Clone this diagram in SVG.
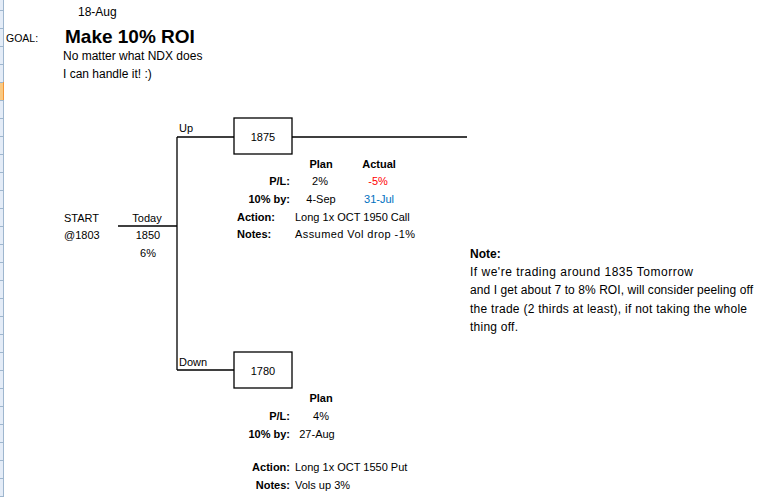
<svg xmlns="http://www.w3.org/2000/svg" width="765" height="497" viewBox="0 0 765 497">
<style>
text{font-family:"Liberation Sans",Arial,sans-serif;font-size:11px;fill:#000}
.b{font-weight:bold}
.m{text-anchor:middle}
.r{text-anchor:end}
.h{font-size:12px}
.n{font-size:12px}
.ln{stroke:#000;stroke-width:1.3;fill:none}
.box{stroke:#000;stroke-width:1.3;fill:#fff}
.tick{stroke:#9eb6ce;stroke-width:1}
</style>
<rect x="0" y="0" width="765" height="497" fill="#fff"/>
<g id="rowheaders">
<rect x="0" y="0" width="3" height="497" fill="#e4ecf7"/>
<line x1="3.5" y1="0" x2="3.5" y2="497" stroke="#9eb6ce"/>
<rect x="0" y="82" width="3" height="18" fill="#f9c982"/>
<line x1="3.5" y1="82" x2="3.5" y2="100" stroke="#f29536"/>
<path class="tick" d="M0 10.5h3M0 28.5h3M0 46.5h3M0 64.5h3M0 82.5h3M0 100.5h3M0 118.5h3M0 136.5h3M0 154.5h3M0 172.5h3M0 190.5h3M0 208.5h3M0 226.5h3M0 244.5h3M0 262.5h3M0 280.5h3M0 298.5h3M0 316.5h3M0 334.5h3M0 352.5h3M0 370.5h3M0 388.5h3M0 406.5h3M0 424.5h3M0 442.5h3M0 460.5h3M0 478.5h3M0 496.5h3"/>
</g>
<g id="header">
<text x="78" y="16" class="h">18-Aug</text>
<text x="6" y="42" style="font-size:10.5px">GOAL:</text>
<text x="65" y="43" class="b" style="font-size:19px">Make 10% ROI</text>
<text x="63" y="60" class="h">No matter what NDX does</text>
<text x="63" y="78" class="h">I can handle it! :)</text>
</g>
<g id="connectors">
<path class="ln" d="M118 226H177M177 137V370M177 137H234M292 137H467M177 370H234"/>
</g>
<g id="start">
<text x="64" y="222">START</text>
<text x="64" y="239">@1803</text>
</g>
<g id="today">
<text x="147" y="222" class="m">Today</text>
<text x="148" y="239" class="m">1850</text>
<text x="148" y="257" class="m">6%</text>
</g>
<g id="up">
<text x="179" y="132">Up</text>
<rect class="box" x="234" y="118" width="58" height="36"/>
<text x="263" y="141" class="m">1875</text>
<text x="321" y="168" class="m b">Plan</text>
<text x="379" y="168" class="m b">Actual</text>
<text x="290" y="185" class="r b">P/L:</text>
<text x="320" y="185" class="m">2%</text>
<text x="378" y="185" class="m" style="fill:#ff0000">-5%</text>
<text x="290" y="203" class="r b">10% by:</text>
<text x="321" y="203" class="m">4-Sep</text>
<text x="379" y="203" class="m" style="fill:#0070c0">31-Jul</text>
<text x="237" y="221" class="b">Action:</text>
<text x="295" y="221">Long 1x OCT 1950 Call</text>
<text x="237" y="238" class="b">Notes:</text>
<text x="295" y="238" textLength="120">Assumed Vol drop -1%</text>
</g>
<g id="down">
<text x="179" y="366">Down</text>
<rect class="box" x="234" y="352" width="58" height="36"/>
<text x="263" y="375" class="m">1780</text>
<text x="321" y="402" class="m b">Plan</text>
<text x="290" y="420" class="r b">P/L:</text>
<text x="321" y="420" class="m">4%</text>
<text x="290" y="438" class="r b">10% by:</text>
<text x="317" y="438" class="m">27-Aug</text>
<text x="290" y="471" class="r b">Action:</text>
<text x="295" y="471">Long 1x OCT 1550 Put</text>
<text x="290" y="489" class="r b">Notes:</text>
<text x="295" y="489">Vols up 3%</text>
</g>
<g id="note">
<text x="470" y="258" class="b n">Note:</text>
<text x="470" y="276" class="n" textLength="223">If we're trading around 1835 Tomorrow</text>
<text x="470" y="294" class="n" textLength="283">and I get about 7 to 8% ROI, will consider peeling off</text>
<text x="470" y="313" class="n" textLength="277">the trade (2 thirds at least), if not taking the whole</text>
<text x="470" y="331" class="n" textLength="48">thing off.</text>
</g>
</svg>
